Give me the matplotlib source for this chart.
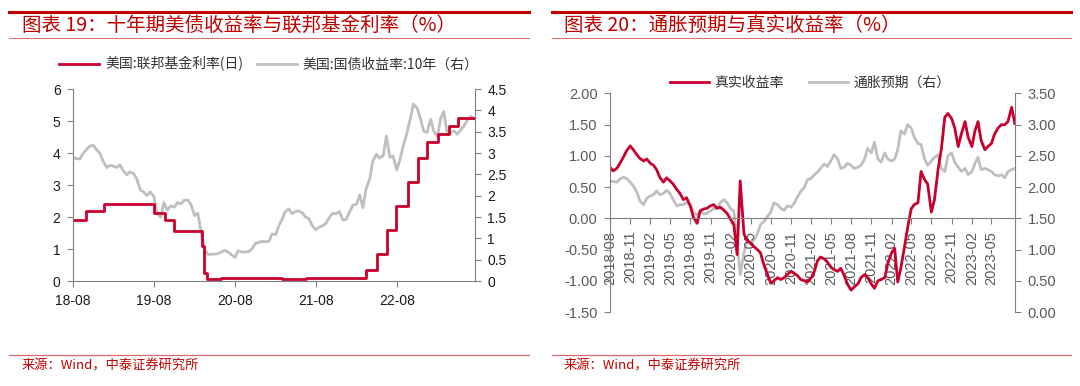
import matplotlib
matplotlib.use("Agg")
import matplotlib.pyplot as plt
from matplotlib.lines import Line2D
import numpy as np
import pandas as pd

plt.rcParams["font.family"] = ["Liberation Sans", "Noto Sans CJK SC"]
CJK = ["Noto Sans CJK SC", "DejaVu Sans"]

# ---------------- left chart data ----------------
# Fed funds effective rate: change dates and levels
ffr_dates = ["2018-08-01", "2018-09-27", "2018-12-20", "2019-08-01", "2019-09-19",
             "2019-10-31", "2020-03-04", "2020-03-16", "2020-03-26", "2020-06-01",
             "2021-03-01", "2021-06-17", "2021-09-01", "2022-03-17", "2022-05-05",
             "2022-06-16", "2022-07-28", "2022-09-22", "2022-11-03", "2022-12-15",
             "2023-02-02", "2023-03-23", "2023-05-04"]
ffr_levels = [1.91, 2.18, 2.40, 2.13, 1.90,
              1.55, 1.10, 0.25, 0.05, 0.09,
              0.07, 0.10, 0.08, 0.33, 0.83,
              1.58, 2.33, 3.08, 3.83, 4.33,
              4.58, 4.83, 5.08]
ffr_end = "2023-07-20"

# US 10Y treasury yield, semi-monthly from 2018-08-01
ust10y = [
    2.90, 2.87, 2.86, 2.99, 3.08, 3.16, 3.18, 3.08, 2.99, 2.80,
    2.66, 2.71, 2.69, 2.66, 2.72, 2.59, 2.49, 2.56, 2.52, 2.40, 2.13, 2.09,
    2.00, 2.09, 1.98, 1.58, 1.50, 1.84, 1.66, 1.76, 1.73, 1.84, 1.81, 1.89,
    1.90, 1.79, 1.53, 1.59, 1.15, 0.75, 0.62, 0.63, 0.63, 0.64, 0.68, 0.72,
    0.68, 0.62, 0.55, 0.71, 0.68, 0.68, 0.69, 0.74, 0.88, 0.90, 0.93, 0.92,
    0.93, 1.10, 1.09, 1.30, 1.44, 1.62, 1.69, 1.58, 1.63, 1.64, 1.60, 1.50,
    1.46, 1.30, 1.20, 1.26, 1.30, 1.35, 1.49, 1.58, 1.58, 1.63, 1.43, 1.44,
    1.63, 1.78, 1.80, 2.02, 1.72, 2.15, 2.39, 2.82, 2.97, 2.88, 2.94, 3.40,
    2.90, 2.93, 2.60, 2.84, 3.20, 3.45, 3.80, 4.15, 4.05, 3.82, 3.51, 3.48,
    3.79, 3.51, 3.39, 3.81, 3.97, 3.51, 3.47, 3.52, 3.44, 3.53, 3.64, 3.77,
    3.86, 3.80,
]

# ---------------- right chart data ----------------
# 10Y real yield (left axis), semi-monthly from 2018-08-01
real_yield = [
    0.82, 0.76, 0.80, 0.88, 0.98, 1.08, 1.16, 1.10, 1.02, 0.96,
    0.92, 0.95, 0.88, 0.85, 0.78, 0.66, 0.58, 0.65, 0.60, 0.55, 0.46, 0.40,
    0.30, 0.33, 0.20, 0.02, -0.08, 0.12, 0.15, 0.16, 0.20, 0.22, 0.16, 0.18,
    0.13, 0.08, -0.02, -0.10, -0.58, 0.60, -0.25, -0.35, -0.40, -0.45, -0.50, -0.55,
    -0.75, -0.88, -1.04, -1.00, -0.95, -0.98, -0.95, -0.90, -0.85, -0.88, -0.92, -0.98,
    -1.00, -1.02, -0.95, -0.85, -0.68, -0.62, -0.65, -0.70, -0.78, -0.82, -0.85, -0.80,
    -0.92, -1.05, -1.15, -1.10, -1.05, -0.95, -0.90, -0.95, -1.05, -1.12, -1.00, -0.98,
    -0.95, -0.72, -0.55, -0.48, -1.02, -0.80, -0.45, -0.15, 0.15, 0.22, 0.25, 0.75,
    0.62, 0.55, 0.10, 0.30, 0.80, 1.10, 1.62, 1.68, 1.60, 1.45, 1.15, 1.35,
    1.55, 1.30, 1.15, 1.40, 1.55, 1.25, 1.10, 1.15, 1.20, 1.35, 1.45, 1.50,
    1.50, 1.55, 1.78, 1.52,
]
# 10Y breakeven inflation (right axis)
breakeven = [
    2.10, 2.09, 2.08, 2.13, 2.16, 2.14, 2.08, 2.02, 1.92, 1.78,
    1.72, 1.82, 1.86, 1.88, 1.94, 1.88, 1.90, 1.95, 1.90, 1.80, 1.70, 1.72,
    1.72, 1.75, 1.72, 1.60, 1.55, 1.62, 1.57, 1.58, 1.62, 1.65, 1.67, 1.75,
    1.80, 1.75, 1.65, 1.62, 1.10, 0.60, 0.95, 1.15, 1.12, 1.15, 1.25, 1.40,
    1.45, 1.52, 1.60, 1.75, 1.72, 1.66, 1.63, 1.70, 1.68, 1.74, 1.85, 1.93,
    2.00, 2.12, 2.14, 2.20, 2.24, 2.30, 2.37, 2.33, 2.42, 2.52, 2.45, 2.30,
    2.32, 2.38, 2.35, 2.30, 2.32, 2.35, 2.45, 2.62, 2.55, 2.72, 2.45, 2.40,
    2.55, 2.45, 2.42, 2.45, 2.60, 2.90, 2.85, 3.00, 2.95, 2.80, 2.70, 2.68,
    2.45, 2.35, 2.42, 2.48, 2.52, 2.30, 2.25, 2.50, 2.55, 2.40, 2.32, 2.25,
    2.30, 2.20, 2.25, 2.38, 2.48, 2.28, 2.30, 2.28, 2.25, 2.20, 2.18, 2.20,
    2.15, 2.25, 2.28, 2.30,
]

left_dates = pd.date_range("2018-08-01", periods=len(ust10y), freq="SMS")
right_dates = pd.date_range("2018-08-01", periods=len(real_yield), freq="SMS")

RED = "#c8002d"
GRAY = "#bfbfbf"
SPINE = "#808080"
TITLE_RED = "#c00000"

fig = plt.figure(figsize=(10.8, 3.86), dpi=100)

# ---------------- headers / footers ----------------
for x0, x1, tx, title in [(0.0083, 0.4898, 0.0204, "图表 19：十年期美债收益率与联邦基金利率（%）"),
                          (0.5111, 0.9917, 0.5222, "图表 20：通胀预期与真实收益率（%）")]:
    fig.add_artist(Line2D([x0, x1], [0.9697, 0.9697], color=TITLE_RED, lw=2.2))
    fig.add_artist(Line2D([x0, x1], [0.9016, 0.9016], color="#e07070", lw=0.8))
    fig.text(tx, 0.934, title, color=TITLE_RED, fontsize=14, family=CJK, va="center")
    fig.add_artist(Line2D([x0, x1], [0.0803, 0.0803], color="#d9696e", lw=0.9))
    fig.text(tx, 0.051, "来源：Wind，中泰证券研究所", color=TITLE_RED, fontsize=9.5,
             family=CJK, va="center")

# ---------------- left chart ----------------
ax1 = fig.add_axes([0.0676, 0.272, 0.3722, 0.4974])
ax1r = ax1.twinx()
ax1.set_zorder(ax1r.get_zorder() + 1)
ax1.patch.set_visible(False)

ffr_x = pd.to_datetime(ffr_dates + [ffr_end])
ffr_y = ffr_levels + [ffr_levels[-1]]
ax1.plot(ffr_x, ffr_y, drawstyle="steps-post", color=RED, lw=2.0,
         label="美国:联邦基金利率(日)")
ax1r.plot(left_dates, ust10y, color=GRAY, lw=2.0, label="美国:国债收益率:10年（右）")

ax1.set_xlim(pd.Timestamp("2018-08-01"), pd.Timestamp(ffr_end))
ax1.set_ylim(0, 6)
ax1r.set_ylim(0, 4.5)
ax1.set_yticks(range(0, 7))
ax1r.set_yticks(np.arange(0, 4.51, 0.5))
ax1r.set_yticklabels(["0", "0.5", "1", "1.5", "2", "2.5", "3", "3.5", "4", "4.5"])
xt = pd.date_range("2018-08-01", "2022-08-01", freq="12MS")
ax1.set_xticks(xt)
ax1.set_xticklabels([d.strftime("%y-%m") for d in xt])

for a in (ax1, ax1r):
    a.spines["top"].set_visible(False)
    for s in a.spines.values():
        s.set_color(SPINE)
    a.tick_params(length=4, color=SPINE, labelsize=10, labelcolor="#1a1a1a", pad=5)
ax1.spines["right"].set_visible(False)
ax1r.spines["left"].set_visible(False)
ax1r.spines["bottom"].set_visible(False)

h1, l1 = ax1.get_legend_handles_labels()
h2, l2 = ax1r.get_legend_handles_labels()
fig.legend(h1 + h2, l1 + l2, loc="center", bbox_to_anchor=(0.249, 0.834), ncol=2,
           frameon=False, prop={"family": CJK, "size": 10}, handlelength=2.9,
           handletextpad=0.4, columnspacing=1.0, labelcolor="#333333")

# ---------------- right chart ----------------
ax2 = fig.add_axes([0.5648, 0.1917, 0.375, 0.5661])
ax2r = ax2.twinx()
ax2.set_zorder(ax2r.get_zorder() + 1)
ax2.patch.set_visible(False)

ax2.plot(right_dates, real_yield, color=RED, lw=2.0, label="真实收益率")
ax2r.plot(right_dates, breakeven, color=GRAY, lw=2.0, label="通胀预期（右）")

ax2.set_xlim(pd.Timestamp("2018-08-01"), pd.Timestamp("2023-08-16"))
ax2.set_ylim(-1.5, 2.0)
ax2r.set_ylim(0, 3.5)
ax2.set_yticks(np.arange(-1.5, 2.01, 0.5))
ax2r.set_yticks(np.arange(0, 3.51, 0.5))
ax2.yaxis.set_major_formatter(plt.FormatStrFormatter("%.2f"))
ax2r.yaxis.set_major_formatter(plt.FormatStrFormatter("%.2f"))
xt2 = pd.date_range("2018-08-01", "2023-05-01", freq="3MS")
ax2.set_xticks(xt2)
ax2.set_xticklabels([d.strftime("%Y-%m") for d in xt2])
ax2.spines["bottom"].set_position(("data", 0))

for a in (ax2, ax2r):
    a.spines["top"].set_visible(False)
    for s in a.spines.values():
        s.set_color(SPINE)
    a.tick_params(length=4, color=SPINE, labelsize=10.5, labelcolor="#595959", pad=5)
ax2.tick_params(axis="x", labelrotation=90)
ax2.spines["right"].set_visible(False)
ax2r.spines["left"].set_visible(False)
ax2r.spines["bottom"].set_visible(False)

h1, l1 = ax2.get_legend_handles_labels()
h2, l2 = ax2r.get_legend_handles_labels()
fig.legend(h1 + h2, l1 + l2, loc="center", bbox_to_anchor=(0.75, 0.785), ncol=2,
           frameon=False, prop={"family": CJK, "size": 10}, handlelength=2.8,
           handletextpad=0.4, columnspacing=1.8, labelcolor="#333333")

fig.savefig("out.png", dpi=100)
